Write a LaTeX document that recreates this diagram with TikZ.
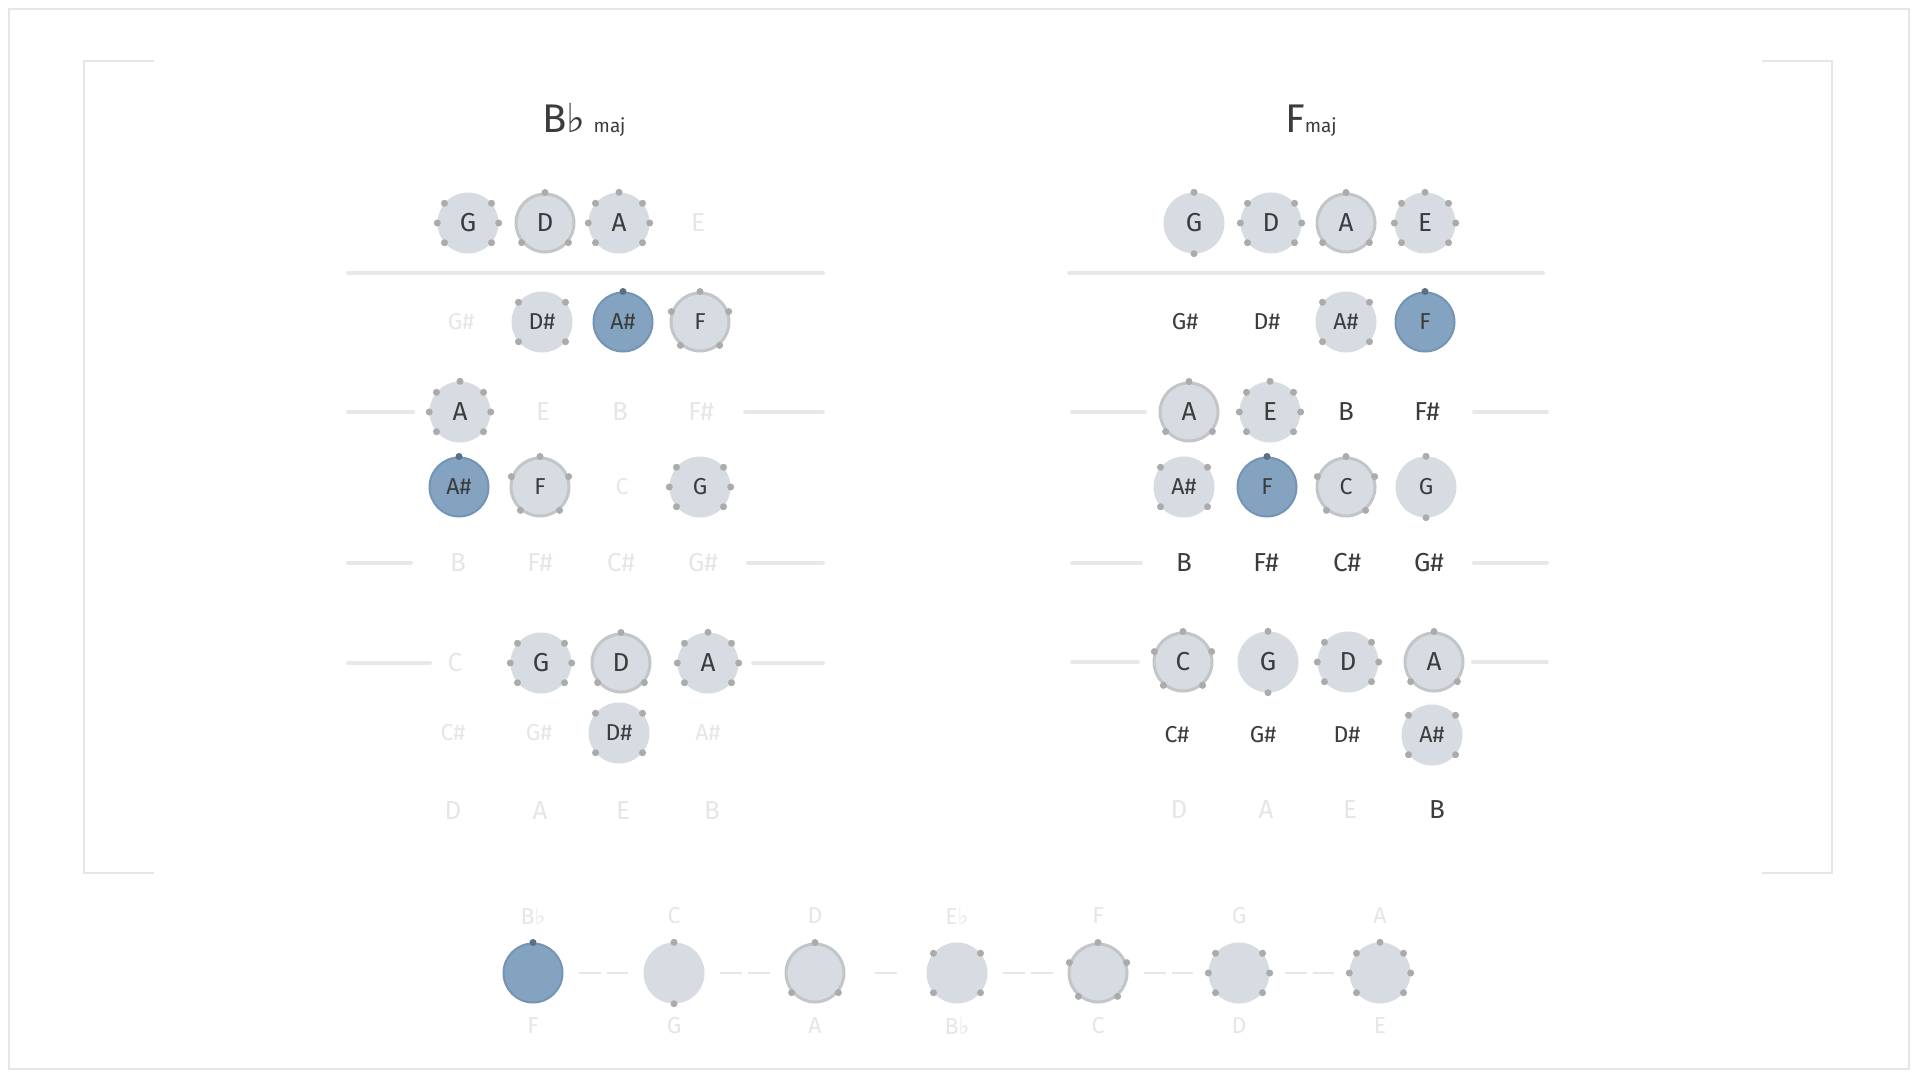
\documentclass[tikz,border=0pt]{standalone}
\usepackage{fontspec}
\setmainfont{Fira Sans}
\newfontfamily\symbfont{DejaVu Sans}
\usepackage{tikz}

\definecolor{notefill}{HTML}{D6DCE1}
\definecolor{ringgray}{HTML}{C2C6C9}
\definecolor{rootblue}{HTML}{84A3C1}
\definecolor{rootedge}{HTML}{7394B5}
\definecolor{pipgray}{HTML}{ABABAB}
\definecolor{pipdark}{HTML}{5B6F83}
\definecolor{inkgray}{HTML}{3C3C3C}
\definecolor{fadegray}{HTML}{E6E6E6}
\definecolor{rulegray}{HTML}{E8E8E8}

\newcommand{\bigtxt}{\fontsize{26}{26}\selectfont}
\newcommand{\smalltxt}{\fontsize{23}{23}\selectfont}
\newcommand{\flt}{{\symbfont\char"266D}}

% dot patterns, one per scale degree
\newcommand{\dtwo}{90,270}
\newcommand{\dthree}{90,220,320}
\newcommand{\dfour}{40,140,220,320}
\newcommand{\dfive}{90,20,160,230,310}
\newcommand{\dsix}{0,40,140,180,220,320}
\newcommand{\dseven}{90,0,40,140,180,220,320}
\newcommand{\pips}[2]{\foreach \a in #2 {\fill[pipgray] (#1.\a) circle (3.5pt);}}
\newcommand{\rootpip}[1]{\fill[pipdark] (#1.90) circle (3.5pt);}

\tikzset{
  note/.style={circle, minimum size=61pt, inner sep=0pt, fill=notefill, text=inkgray, font=\bigtxt},
  chord/.style={note, draw=ringgray, line width=3pt, minimum size=58pt},
  root/.style={note, fill=rootblue, draw=rootedge, line width=2pt, minimum size=59pt},
  faded/.style={inner sep=0pt, text=fadegray, font=\bigtxt},
  ink/.style={inner sep=0pt, text=inkgray, font=\bigtxt},
  lo/.style={font=\smalltxt},
  rule/.style={rulegray, line width=4pt, line cap=round},
  frame/.style={fadegray, line width=2pt},
  whole/.style={fadegray, line width=2pt, dash pattern=on 22pt off 6pt, shorten <=15pt, shorten >=15pt},
  half/.style={fadegray, line width=2pt, shorten <=29pt, shorten >=29pt}
}

\begin{document}
\begin{tikzpicture}[x=1pt, y=-1pt]
\fill[white] (0,0) rectangle (1920,1080);
\useasboundingbox (0,0) rectangle (1920,1080);
\draw[frame] (9,9) rectangle (1909,1069);
\draw[frame] (154,61) -- (84,61) -- (84,873) -- (154,873);
\draw[frame] (1762,61) -- (1832,61) -- (1832,873) -- (1762,873);

% Bb major
\node[anchor=base, inner sep=0pt, text=inkgray, font=\fontsize{40}{40}\selectfont] (btitle) at (584,132) {B\flt\hspace{8pt}{\fontsize{19}{19}\selectfont maj}};
\node[note] (b1g) at (468,223) {G}; \pips{b1g}{\dsix}
\node[chord] (b1d) at (545,223) {D}; \pips{b1d}{\dthree}
\node[note] (b1a) at (619,223) {A}; \pips{b1a}{\dseven}
\node[faded] (b1e) at (698,223) {E};
\draw[rule] (348,273) -- (823,273);
\node[faded, lo] (b2gs) at (461,322) {G\#};
\node[note, lo] (b2ds) at (542,322) {D\#}; \pips{b2ds}{\dfour}
\node[root, lo] (b2as) at (623,322) {A\#}; \rootpip{b2as}
\node[chord, lo] (b2f) at (700,322) {F}; \pips{b2f}{\dfive}
\draw[rule] (348,412) -- (413,412);
\draw[rule] (745,412) -- (823,412);
\node[note] (b3a) at (460,412) {A}; \pips{b3a}{\dseven}
\node[faded] (b3e) at (543,412) {E};
\node[faded] (b3b) at (620,412) {B};
\node[faded] (b3fs) at (701,412) {F\#};
\node[root, lo] (b4as) at (459,487) {A\#}; \rootpip{b4as}
\node[chord, lo] (b4f) at (540,487) {F}; \pips{b4f}{\dfive}
\node[faded, lo] (b4c) at (622,487) {C};
\node[note, lo] (b4g) at (700,487) {G}; \pips{b4g}{\dsix}
\draw[rule] (348,563) -- (411,563);
\draw[rule] (748,563) -- (823,563);
\node[faded] (b5b) at (458,563) {B};
\node[faded] (b5fs) at (540,563) {F\#};
\node[faded] (b5cs) at (621,563) {C\#};
\node[faded] (b5gs) at (703,563) {G\#};
\draw[rule] (348,663) -- (430,663);
\draw[rule] (753,663) -- (823,663);
\node[faded] (b6c) at (455,663) {C};
\node[note] (b6g) at (541,663) {G}; \pips{b6g}{\dsix}
\node[chord] (b6d) at (621,663) {D}; \pips{b6d}{\dthree}
\node[note] (b6a) at (708,663) {A}; \pips{b6a}{\dseven}
\node[faded, lo] (b7cs) at (453,733) {C\#};
\node[faded, lo] (b7gs) at (539,733) {G\#};
\node[note, lo] (b7ds) at (619,733) {D\#}; \pips{b7ds}{\dfour}
\node[faded, lo] (b7as) at (708,733) {A\#};
\node[faded] (b8d) at (453,811) {D};
\node[faded] (b8a) at (540,811) {A};
\node[faded] (b8e) at (623,811) {E};
\node[faded] (b8b) at (712,811) {B};

% F major
\node[anchor=base, inner sep=0pt, text=inkgray, font=\fontsize{40}{40}\selectfont] (ftitle) at (1311,132) {F{\fontsize{19}{19}\selectfont maj}};
\node[note] (f1g) at (1194,223) {G}; \pips{f1g}{\dtwo}
\node[note] (f1d) at (1271,223) {D}; \pips{f1d}{\dsix}
\node[chord] (f1a) at (1346,223) {A}; \pips{f1a}{\dthree}
\node[note] (f1e) at (1425,223) {E}; \pips{f1e}{\dseven}
\draw[rule] (1069,273) -- (1543,273);
\node[ink, lo] (f2gs) at (1185,322) {G\#};
\node[ink, lo] (f2ds) at (1267,322) {D\#};
\node[note, lo] (f2as) at (1346,322) {A\#}; \pips{f2as}{\dfour}
\node[root, lo] (f2f) at (1425,322) {F}; \rootpip{f2f}
\draw[rule] (1072,412) -- (1145,412);
\draw[rule] (1474,412) -- (1547,412);
\node[chord] (f3a) at (1189,412) {A}; \pips{f3a}{\dthree}
\node[note] (f3e) at (1270,412) {E}; \pips{f3e}{\dseven}
\node[ink] (f3b) at (1346,412) {B};
\node[ink] (f3fs) at (1427,412) {F\#};
\node[note, lo] (f4as) at (1184,487) {A\#}; \pips{f4as}{\dfour}
\node[root, lo] (f4f) at (1267,487) {F}; \rootpip{f4f}
\node[chord, lo] (f4c) at (1346,487) {C}; \pips{f4c}{\dfive}
\node[note, lo] (f4g) at (1426,487) {G}; \pips{f4g}{\dtwo}
\draw[rule] (1072,563) -- (1141,563);
\draw[rule] (1474,563) -- (1547,563);
\node[ink] (f5b) at (1184,563) {B};
\node[ink] (f5fs) at (1266,563) {F\#};
\node[ink] (f5cs) at (1347,563) {C\#};
\node[ink] (f5gs) at (1429,563) {G\#};
\draw[rule] (1072,662) -- (1138,662);
\draw[rule] (1473,662) -- (1547,662);
\node[chord] (f6c) at (1183,662) {C}; \pips{f6c}{\dfive}
\node[note] (f6g) at (1268,662) {G}; \pips{f6g}{\dtwo}
\node[note] (f6d) at (1348,662) {D}; \pips{f6d}{\dsix}
\node[chord] (f6a) at (1434,662) {A}; \pips{f6a}{\dthree}
\node[ink, lo] (f7cs) at (1177,735) {C\#};
\node[ink, lo] (f7gs) at (1263,735) {G\#};
\node[ink, lo] (f7ds) at (1347,735) {D\#};
\node[note, lo] (f7as) at (1432,735) {A\#}; \pips{f7as}{\dfour}
\node[faded] (f8d) at (1179,810) {D};
\node[faded] (f8a) at (1266,810) {A};
\node[faded] (f8e) at (1350,810) {E};
\node[ink] (f8b) at (1437,810) {B};

% scale strip
\node[root] (s1) at (533,973) {}; \rootpip{s1}
\node[note] (s2) at (674,973) {}; \pips{s2}{\dtwo}
\node[chord] (s3) at (815,973) {}; \pips{s3}{\dthree}
\node[note] (s4) at (957,973) {}; \pips{s4}{\dfour}
\node[chord] (s5) at (1098,973) {}; \pips{s5}{\dfive}
\node[note] (s6) at (1239,973) {}; \pips{s6}{\dsix}
\node[note] (s7) at (1380,973) {}; \pips{s7}{\dseven}
\draw[whole] (s1) -- (s2);
\draw[whole] (s2) -- (s3);
\draw[half] (s3) -- (s4);
\draw[whole] (s4) -- (s5);
\draw[whole] (s5) -- (s6);
\draw[whole] (s6) -- (s7);
\node[faded, lo] (t1) at (533,916) {B\flt};
\node[faded, lo] (t2) at (674,916) {C};
\node[faded, lo] (t3) at (815,916) {D};
\node[faded, lo] (t4) at (957,916) {E\flt};
\node[faded, lo] (t5) at (1098,916) {F};
\node[faded, lo] (t6) at (1239,916) {G};
\node[faded, lo] (t7) at (1380,916) {A};
\node[faded, lo] (u1) at (533,1026) {F};
\node[faded, lo] (u2) at (674,1026) {G};
\node[faded, lo] (u3) at (815,1026) {A};
\node[faded, lo] (u4) at (957,1026) {B\flt};
\node[faded, lo] (u5) at (1098,1026) {C};
\node[faded, lo] (u6) at (1239,1026) {D};
\node[faded, lo] (u7) at (1380,1026) {E};
\end{tikzpicture}
\end{document}
